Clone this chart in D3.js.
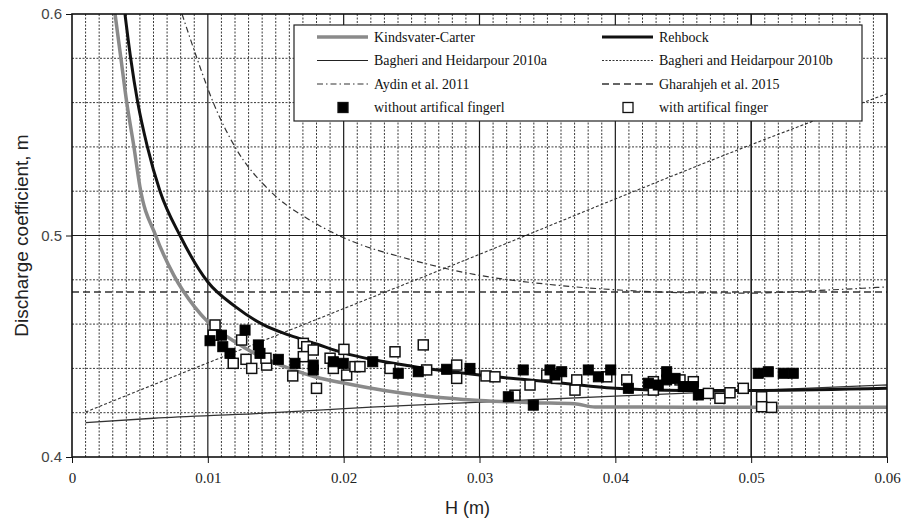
<!DOCTYPE html>
<html>
<head>
<meta charset="utf-8">
<script src="https://cdn.jsdelivr.net/npm/d3@7"></script>
<style>
  html, body { margin: 0; padding: 0; background: #fff; }
  svg { display: block; }
</style>
</head>
<body>
<svg id="chart" width="905" height="522"></svg>
<script>
// ---------------- DATA ----------------
const xTicks = [0, 0.01, 0.02, 0.03, 0.04, 0.05, 0.06];
const xTickLabels = ["0", "0.01", "0.02", "0.03", "0.04", "0.05", "0.06"];
const yTicks = [0.4, 0.5, 0.6];
const yTickLabels = ["0.4", "0.5", "0.6"];

const kindsvaterCarter = [
  [0.00317, 0.600], [0.0036, 0.580], [0.00403, 0.560], [0.00456, 0.540],
  [0.0050, 0.522], [0.00616, 0.500], [0.0075, 0.482], [0.0090, 0.468],
  [0.0100, 0.461], [0.0120, 0.452], [0.0140, 0.445], [0.0160, 0.440],
  [0.0180, 0.436], [0.0200, 0.4334], [0.0230, 0.4300], [0.0260, 0.4275],
  [0.0300, 0.4255], [0.0340, 0.4245], [0.0370, 0.4240], [0.0385, 0.4226],
  [0.0450, 0.4225], [0.0600, 0.4225]
];
const rehbock = [
  [0.0039, 0.600], [0.00432, 0.580], [0.00484, 0.560], [0.00555, 0.540],
  [0.00648, 0.520], [0.00795, 0.500], [0.0100, 0.479], [0.0120, 0.468],
  [0.0140, 0.460], [0.0160, 0.455], [0.0180, 0.451], [0.0200, 0.447],
  [0.0250, 0.441], [0.0300, 0.437], [0.0350, 0.434], [0.0400, 0.431],
  [0.0450, 0.430], [0.0500, 0.430], [0.0600, 0.431]
];
const bagheri2010a = [
  [0.001, 0.4155], [0.006, 0.4175], [0.0138, 0.4197], [0.022, 0.4225],
  [0.031, 0.4250], [0.040, 0.4275], [0.050, 0.4300], [0.060, 0.4325]
];
const bagheri2010b = [
  [0.001, 0.4203], [0.010, 0.4425], [0.020, 0.4670], [0.030, 0.4915],
  [0.040, 0.5165], [0.050, 0.5410], [0.060, 0.5640]
];
const aydin2011 = [
  [0.0081, 0.600], [0.0092, 0.580], [0.0104, 0.560], [0.0120, 0.540],
  [0.0146, 0.520], [0.0175, 0.507], [0.020, 0.499], [0.025, 0.489],
  [0.030, 0.482], [0.035, 0.478], [0.040, 0.4755], [0.045, 0.4742],
  [0.050, 0.4740], [0.055, 0.4752], [0.060, 0.4768]
];
const gharahjeh2015 = [[0.0, 0.4745], [0.06, 0.4745]];

const withoutFinger = [
  [0.01016, 0.4525], [0.0110, 0.455], [0.0111, 0.4498], [0.01163, 0.4468],
  [0.01274, 0.4573], [0.01372, 0.4506], [0.01384, 0.4468], [0.01519, 0.4441],
  [0.01642, 0.4423], [0.01776, 0.4415], [0.01776, 0.4393], [0.01924, 0.4430],
  [0.01997, 0.4423], [0.02214, 0.4430], [0.02402, 0.4378], [0.02549, 0.4385],
  [0.02758, 0.4396], [0.0293, 0.4400], [0.03212, 0.4272], [0.03322, 0.4393],
  [0.03396, 0.4234], [0.03519, 0.4393], [0.03556, 0.4370], [0.03605, 0.4385],
  [0.03801, 0.4393], [0.03875, 0.4362], [0.03966, 0.4393], [0.04096, 0.4310],
  [0.04243, 0.4333], [0.04316, 0.4325], [0.04378, 0.4385], [0.04378, 0.4348],
  [0.0444, 0.4355], [0.0450, 0.4318], [0.04574, 0.4318], [0.04611, 0.4280],
  [0.05052, 0.4378], [0.05126, 0.4385], [0.05236, 0.4378], [0.0531, 0.4378]
];
const withFinger = [
  [0.01053, 0.4596], [0.0104, 0.4550], [0.01187, 0.4423], [0.01249, 0.4528],
  [0.01281, 0.4441], [0.01323, 0.4400], [0.01433, 0.4415], [0.01428, 0.4446],
  [0.01625, 0.4366], [0.01703, 0.4513], [0.01728, 0.4498], [0.01776, 0.4483],
  [0.01703, 0.4453], [0.0180, 0.4310], [0.0190, 0.4446], [0.01924, 0.4400],
  [0.02002, 0.4486], [0.02022, 0.4370], [0.02083, 0.4408], [0.0212, 0.4408],
  [0.02378, 0.4475], [0.02341, 0.4400], [0.02586, 0.4506], [0.02611, 0.4393],
  [0.02832, 0.4415], [0.02832, 0.4355], [0.03048, 0.4366], [0.03114, 0.4362],
  [0.03261, 0.4279], [0.03372, 0.4325], [0.03495, 0.4370], [0.03568, 0.4355],
  [0.03716, 0.4348], [0.03703, 0.4302], [0.03937, 0.4362], [0.04084, 0.4348],
  [0.0428, 0.4302], [0.0428, 0.4340], [0.04476, 0.4348], [0.04574, 0.4340],
  [0.04685, 0.4287], [0.0477, 0.4265], [0.04844, 0.4290], [0.04942, 0.4310],
  [0.05077, 0.4272], [0.05077, 0.4227], [0.05151, 0.4224]
];

const legendItems = [
  { label: "Kindsvater-Carter", type: "line", stroke: "#8a8a8a", width: 3.5, dash: null },
  { label: "Rehbock", type: "line", stroke: "#111", width: 3, dash: null },
  { label: "Bagheri and Heidarpour 2010a", type: "line", stroke: "#222", width: 1.2, dash: null },
  { label: "Bagheri and Heidarpour 2010b", type: "line", stroke: "#333", width: 1, dash: "2,1.5" },
  { label: "Aydin et al. 2011", type: "line", stroke: "#333", width: 1.1, dash: "6,3,1.5,3" },
  { label: "Gharahjeh et al. 2015", type: "line", stroke: "#333", width: 1.3, dash: "7,4" },
  { label: "without artifical fingerl", type: "filled" },
  { label: "with artifical finger", type: "open" }
];

// ---------------- LAYOUT ----------------
const svg = d3.select("#chart");
const M = { left: 72, top: 14, right: 18, bottom: 65 };
const W = 905 - M.left - M.right;   // 815
const H = 522 - M.top - M.bottom;   // 443

const x = d3.scaleLinear().domain([0, 0.06]).range([0, W]);
const y = d3.scaleLinear().domain([0.4, 0.6]).range([H, 0]);

const g = svg.append("g").attr("transform", `translate(${M.left},${M.top})`);

svg.append("defs").append("clipPath").attr("id", "clip")
  .append("rect").attr("x", 0).attr("y", 0).attr("width", W).attr("height", H);

// ---------------- GRID ----------------
const minorX = d3.range(1, 60).map(i => i * 0.001).filter((v, i) => (i + 1) % 10 !== 0);
const majorX = d3.range(1, 6).map(i => i * 0.01);
const minorY = [0.42, 0.44, 0.46, 0.48, 0.52, 0.54, 0.56, 0.58];

g.append("g").selectAll("line").data(minorX).join("line")
  .attr("x1", d => x(d)).attr("x2", d => x(d)).attr("y1", 0).attr("y2", H)
  .attr("stroke", "#3a3a3a").attr("stroke-width", 1).attr("stroke-dasharray", "2,1.5");

g.append("g").selectAll("line").data(minorY).join("line")
  .attr("x1", 0).attr("x2", W).attr("y1", d => y(d)).attr("y2", d => y(d))
  .attr("stroke", "#3a3a3a").attr("stroke-width", 1).attr("stroke-dasharray", "2,1.5");

g.append("g").selectAll("line").data(majorX).join("line")
  .attr("x1", d => x(d)).attr("x2", d => x(d)).attr("y1", 0).attr("y2", H)
  .attr("stroke", "#1a1a1a").attr("stroke-width", d => d === 0.05 ? 1.6 : 1.2);

g.append("line").attr("x1", 0).attr("x2", W).attr("y1", y(0.5)).attr("y2", y(0.5))
  .attr("stroke", "#1a1a1a").attr("stroke-width", 1.2);

// ---------------- CURVES ----------------
const line = d3.line().x(d => x(d[0])).y(d => y(d[1])).curve(d3.curveMonotoneX);
const curves = g.append("g").attr("clip-path", "url(#clip)");

curves.append("path").datum(gharahjeh2015).attr("d", line)
  .attr("fill", "none").attr("stroke", "#333").attr("stroke-width", 1.3).attr("stroke-dasharray", "7,4");
curves.append("path").datum(aydin2011).attr("d", line)
  .attr("fill", "none").attr("stroke", "#333").attr("stroke-width", 1.2).attr("stroke-dasharray", "6,3,1.5,3");
curves.append("path").datum(bagheri2010b).attr("d", line)
  .attr("fill", "none").attr("stroke", "#333").attr("stroke-width", 1.1).attr("stroke-dasharray", "3,2");
curves.append("path").datum(bagheri2010a).attr("d", line)
  .attr("fill", "none").attr("stroke", "#333").attr("stroke-width", 1.3);
curves.append("path").datum(kindsvaterCarter).attr("d", line)
  .attr("fill", "none").attr("stroke", "#8a8a8a").attr("stroke-width", 3.5);
curves.append("path").datum(rehbock).attr("d", line)
  .attr("fill", "none").attr("stroke", "#111").attr("stroke-width", 3);

// ---------------- MARKERS ----------------
const S = 10;
g.append("g").selectAll("rect").data(withFinger).join("rect")
  .attr("x", d => x(d[0]) - S / 2).attr("y", d => y(d[1]) - S / 2)
  .attr("width", S).attr("height", S)
  .attr("fill", "#fff").attr("stroke", "#111").attr("stroke-width", 1.5);
g.append("g").selectAll("rect").data(withoutFinger).join("rect")
  .attr("x", d => x(d[0]) - S / 2).attr("y", d => y(d[1]) - S / 2)
  .attr("width", S).attr("height", S)
  .attr("fill", "#000").attr("stroke", "#000").attr("stroke-width", 1);

// ---------------- FRAME & AXES ----------------
g.append("rect").attr("x", 0).attr("y", 0).attr("width", W).attr("height", H)
  .attr("fill", "none").attr("stroke", "#111").attr("stroke-width", 1.6);

const xAxis = g.append("g").attr("transform", `translate(0,${H})`)
  .call(d3.axisBottom(x).tickValues(xTicks).tickFormat((d, i) => xTickLabels[i]).tickSize(6).tickPadding(9));
xAxis.select(".domain").remove();
xAxis.selectAll("line").attr("stroke", "#111");
xAxis.selectAll("text").attr("font-family", "'Liberation Serif', 'Times New Roman', serif")
  .attr("font-size", 15).attr("fill", "#222");

const yAxis = g.append("g")
  .call(d3.axisLeft(y).tickValues(yTicks).tickFormat((d, i) => yTickLabels[i]).tickSize(6).tickPadding(4));
yAxis.select(".domain").remove();
yAxis.selectAll("line").attr("stroke", "#111");
yAxis.selectAll("text").attr("font-family", "'Liberation Sans', Arial, sans-serif")
  .attr("font-size", 15).attr("fill", "#444");

svg.append("text").attr("x", M.left + W / 2 - 12).attr("y", 514)
  .attr("text-anchor", "middle").attr("font-family", "'Liberation Sans', Arial, sans-serif")
  .attr("font-size", 18).attr("fill", "#222").text("H (m)");

svg.append("text").attr("transform", `translate(28,${M.top + H / 2}) rotate(-90)`)
  .attr("text-anchor", "middle").attr("font-family", "'Liberation Sans', Arial, sans-serif")
  .attr("font-size", 19).attr("fill", "#222").text("Discharge coefficient, m");

// ---------------- LEGEND ----------------
const lg = svg.append("g").attr("transform", "translate(294,25)");
lg.append("rect").attr("x", 0).attr("y", 0).attr("width", 568).attr("height", 96)
  .attr("fill", "#fff").attr("stroke", "#222").attr("stroke-width", 1.2);

const colX = [23, 308];
const rowY = [12, 35.5, 59, 82.5];
legendItems.forEach((it, i) => {
  const cx = colX[i % 2], cy = rowY[Math.floor(i / 2)];
  const item = lg.append("g").attr("transform", `translate(${cx},${cy})`);
  if (it.type === "line") {
    item.append("line").attr("x1", 0).attr("x2", 51).attr("y1", 0).attr("y2", 0)
      .attr("stroke", it.stroke).attr("stroke-width", it.width)
      .attr("stroke-dasharray", it.dash);
  } else {
    item.append("rect").attr("x", 21).attr("y", -5).attr("width", 10).attr("height", 10)
      .attr("fill", it.type === "filled" ? "#000" : "#fff")
      .attr("stroke", "#111").attr("stroke-width", 1.3);
  }
  item.append("text").attr("x", 57).attr("y", 0).attr("dy", "0.35em")
    .attr("font-family", "'Liberation Serif', 'Times New Roman', serif")
    .attr("font-size", 14).attr("fill", "#111").text(it.label);
});
</script>
</body>
</html>
